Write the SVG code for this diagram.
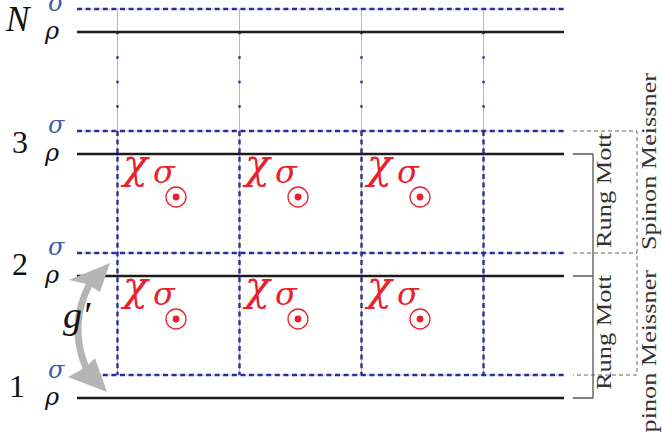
<svg xmlns="http://www.w3.org/2000/svg" width="662" height="432" viewBox="0 0 662 432">
<defs>
<style>
.rho{stroke:#1c1c1c;stroke-width:2.5;fill:none}
.sig{stroke:#2e2e98;stroke-width:2.4;stroke-dasharray:5 3.6;fill:none}
.under{stroke:#c4c4d6;stroke-width:1;fill:none}
.vgrey{stroke:#b9b9b9;stroke-width:1;fill:none}
.vdot{stroke:#2e2e98;stroke-width:2.4;stroke-dasharray:2.5 22;fill:none}
.vdash{stroke:#2e2e98;stroke-width:2.4;stroke-dasharray:5 3.6;fill:none}
.num{font-family:"Liberation Serif",serif;font-size:32px;fill:#111}
.lab{font-family:"DejaVu Serif",serif;font-style:italic;font-size:24px}
.chi{font-family:"DejaVu Serif",serif;font-style:italic;fill:#e8212b}
.side{font-family:"Liberation Serif",serif;font-size:22px;fill:#333}
.brk{stroke:#555;stroke-width:1.3;fill:none}
.brkd{stroke:#666;stroke-width:1;stroke-dasharray:4 3;fill:none}
</style>
<g id="cellmark">
<text class="chi" x="123" y="178" font-size="41">χ</text>
<text class="chi" x="153" y="183" font-size="32">σ</text>
<circle cx="176" cy="197" r="10" fill="none" stroke="#e8212b" stroke-width="1.3"/>
<circle cx="176" cy="197" r="3.4" fill="#e8212b"/>
</g>
</defs>
<rect width="662" height="432" fill="#fff"/>

<g id="connectors">
<path class="under" d="M77 9H564M77 131H564M77 253H564M77 375H564"/>
<path class="vgrey" d="M117.5 9V375M239.5 9V375M361.5 9V375M483.5 9V375"/>
<path class="vdot" d="M117.5 31.75V129M239.5 31.75V129M361.5 31.75V129M483.5 31.75V129"/>
<path class="vdash" d="M117.5 131V375M239.5 131V375M361.5 131V375M483.5 131V375"/>
</g>

<g id="row-N">
<path class="sig" d="M77 9H564"/>
<path class="rho" d="M77 32H564"/>
<text class="num" x="6" y="31" style="font-style:italic;font-size:35px">N</text>
<text class="lab" x="48" y="11" fill="#3a5fb0">σ</text>
<text class="lab" x="45" y="39" fill="#111">ρ</text>
</g>
<g id="row-3">
<path class="sig" d="M77 131H564"/>
<path class="rho" d="M77 154H564"/>
<text class="num" x="20" y="153" text-anchor="middle">3</text>
<text class="lab" x="48" y="133" fill="#3a5fb0">σ</text>
<text class="lab" x="45" y="161" fill="#111">ρ</text>
</g>
<g id="row-2">
<path class="sig" d="M77 253H564"/>
<path class="rho" d="M77 276H564"/>
<text class="num" x="20" y="275" text-anchor="middle">2</text>
<text class="lab" x="48" y="255" fill="#3a5fb0">σ</text>
<text class="lab" x="45" y="283" fill="#111">ρ</text>
</g>
<g id="row-1">
<path class="sig" d="M77 375H564"/>
<path class="rho" d="M77 398H564"/>
<text class="num" x="17" y="397" text-anchor="middle">1</text>
<text class="lab" x="48" y="378" fill="#3a5fb0">σ</text>
<text class="lab" x="45" y="405" fill="#111">ρ</text>
</g>

<g id="cells">
<use href="#cellmark"/>
<use href="#cellmark" x="122"/>
<use href="#cellmark" x="244"/>
<use href="#cellmark" y="122"/>
<use href="#cellmark" x="122" y="122"/>
<use href="#cellmark" x="244" y="122"/>
</g>

<g id="gprime">
<path d="M90 283Q68 325 86 368" stroke="#b5b5b5" stroke-width="7" fill="none"/>
<polygon points="110,263 69,280 87,284 100,292" fill="#b5b5b5"/>
<polygon points="107,392 68,377 86,367 95,358" fill="#b5b5b5"/>
<text x="63" y="328" font-family="Liberation Serif,serif" font-style="italic" font-size="38" fill="#111">g′</text>
</g>

<g id="brackets">
<path class="brk" d="M573 154H593V398H573M573 276H593"/>
<path class="brkd" d="M573 131H637V375H573M573 253H637"/>
<text class="side" transform="translate(611 248) rotate(-90)" textLength="115" lengthAdjust="spacingAndGlyphs">Rung Mott</text>
<text class="side" transform="translate(611 390) rotate(-90)" textLength="115" lengthAdjust="spacingAndGlyphs">Rung Mott</text>
<text class="side" transform="translate(656 250) rotate(-90)" textLength="177" lengthAdjust="spacingAndGlyphs">Spinon Meissner</text>
<text class="side" transform="translate(656 447) rotate(-90)" textLength="177" lengthAdjust="spacingAndGlyphs">Spinon Meissner</text>
</g>
</svg>
